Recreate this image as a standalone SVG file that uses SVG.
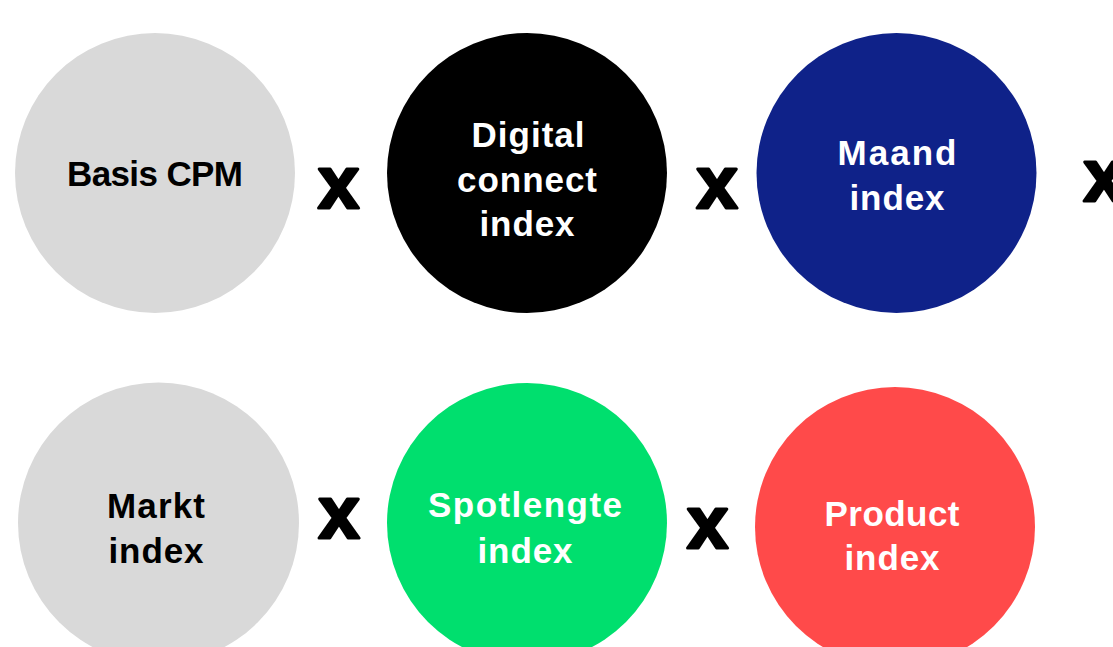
<svg xmlns="http://www.w3.org/2000/svg" width="1113" height="647" viewBox="0 0 1113 647">
<style>
.lbl{font-family:"Liberation Sans",Arial,sans-serif;font-weight:700;font-size:35px;text-anchor:middle}
.w{fill:#ffffff}
.k{fill:#000000}
.op{font-family:"Liberation Sans",Arial,sans-serif;font-weight:700;font-size:74px;text-anchor:middle;fill:#000;stroke:#000;stroke-width:3px;stroke-linejoin:round}
</style>
<rect width="1113" height="647" fill="#ffffff"/>
<g id="node-basis">
<circle cx="155" cy="173" r="140" fill="#d9d9d9"/>
<text class="lbl k" x="155" y="186" textLength="176">Basis CPM</text>
</g>
<g id="node-digital">
<circle cx="527" cy="173" r="140" fill="#000000"/>
<text class="lbl w" x="528" y="147" textLength="113">Digital</text>
<text class="lbl w" x="527" y="192" textLength="140">connect</text>
<text class="lbl w" x="527" y="236" textLength="95">index</text>
</g>
<g id="node-maand">
<circle cx="896.5" cy="173" r="140" fill="#0f2289"/>
<text class="lbl w" x="897" y="165" textLength="119">Maand</text>
<text class="lbl w" x="897" y="210" textLength="95">index</text>
</g>
<g id="node-markt">
<circle cx="158.5" cy="523" r="140.5" fill="#d9d9d9"/>
<text class="lbl k" x="156" y="518" textLength="98">Markt</text>
<text class="lbl k" x="156" y="563" textLength="95">index</text>
</g>
<g id="node-spotlengte">
<circle cx="527" cy="523" r="140" fill="#00df6e"/>
<text class="lbl w" x="525" y="517" textLength="194">Spotlengte</text>
<text class="lbl w" x="525" y="563" textLength="95">index</text>
</g>
<g id="node-product">
<circle cx="895" cy="527" r="140" fill="#ff4a4a"/>
<text class="lbl w" x="892" y="526" textLength="135">Product</text>
<text class="lbl w" x="892" y="570" textLength="95">index</text>
</g>
<g id="operators">
<text class="op" x="338.5" y="208">x</text>
<text class="op" x="717" y="208">x</text>
<text class="op" x="1104" y="201">x</text>
<text class="op" x="339" y="538">x</text>
<text class="op" x="707.5" y="548">x</text>
</g>
</svg>
